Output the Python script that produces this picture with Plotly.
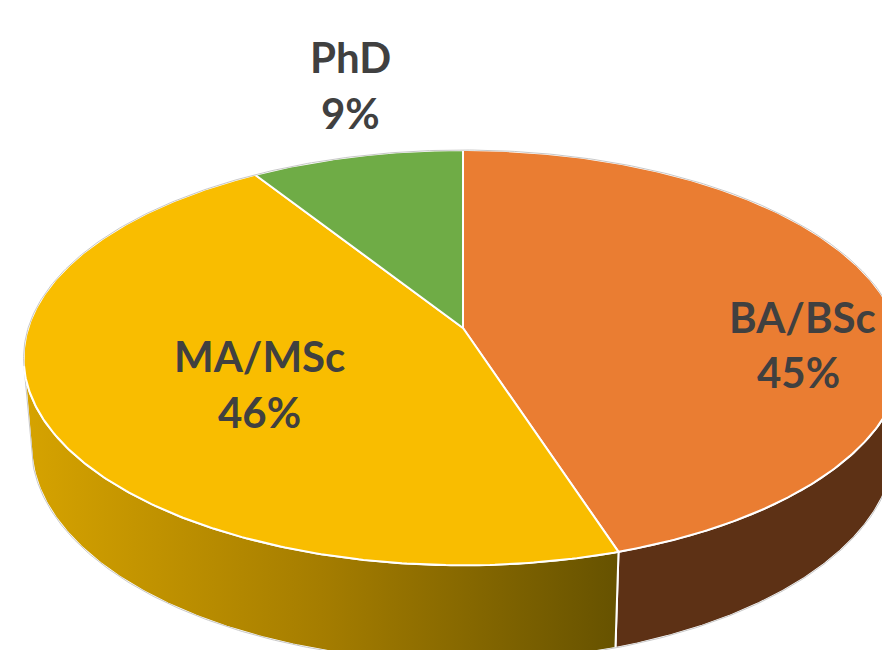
import numpy as np
import plotly.graph_objects as go

# ---------------- data ----------------
labels = ["BA/BSc", "MA/MSc", "PhD"]
values = [45, 46, 9]

# ---------------- style ----------------
top_colors = ["#EA7D32", "#F9BD00", "#6FAC46"]
side_fill = ["#5D3115", None, "#4A7030"]
side_grad = [None, [[0, "#D6A300"], [0.5, "#A57D00"], [1, "#665200"]], None]
label_color = "#404040"
label_font = "Lato"
label_size = 42
# label anchor positions (pixel space) for name and percentage lines
label_pos = [((802, 317), (798, 372)), ((259, 356), (259, 412)), ((350, 57), (350, 113))]

# ---------------- projection (3-D pie seen in perspective) ----------------
CX, CY = 463.0, 328.0      # screen position of pie centre
F = 2692.0                 # focal scale
DIST = 6.19                # camera distance (in radii)
S_A = 0.4677               # sin of tilt
C_A = np.sqrt(1 - S_A ** 2)
H = 0.2306                 # pie thickness (in radii)


def project(theta_deg, y=0.0, r=1.0):
    t = np.radians(theta_deg)
    X = r * np.cos(t)
    Z = r * np.sin(t)
    xv = X
    yv = Z * S_A + y * C_A
    zv = DIST + Z * C_A - y * S_A
    return CX + F * xv / zv, CY - F * yv / zv


total = float(sum(values))
starts, ends = [], []
a = 90.0
for v in values:
    starts.append(a)
    a -= 360.0 * v / total
    ends.append(a)

phi = np.degrees(np.arccos(1.0 / (DIST * C_A)))
vis_lo, vis_hi = -90.0 - phi, -90.0 + phi

fig = go.Figure()

# ---- side walls ----
for i in range(len(values)):
    lo = max(ends[i], vis_lo)
    hi = min(starts[i], vis_hi)
    if lo >= hi:
        continue
    th = np.linspace(lo, hi, 200)
    xt, yt = project(th, 0.0)
    xb, yb = project(th[::-1], -H)
    xs = np.concatenate([xt, xb, xt[:1]])
    ys = np.concatenate([yt, yb, yt[:1]])
    kw = dict(x=xs, y=ys, mode="lines", fill="toself",
              line=dict(color="white", width=2), hoverinfo="skip",
              showlegend=False)
    if side_grad[i] is not None:
        kw["fillgradient"] = dict(type="horizontal", colorscale=side_grad[i])
    else:
        kw["fillcolor"] = side_fill[i]
    fig.add_trace(go.Scatter(**kw))

# ---- outer outline (light grey) ----
th = np.linspace(vis_lo, vis_hi, 300)
xb, yb = project(th, -H)
xl0, yl0 = project(vis_lo, 0.0)
xr0, yr0 = project(vis_hi, 0.0)
fig.add_trace(go.Scatter(x=np.concatenate([[xl0], xb, [xr0]]),
                         y=np.concatenate([[yl0], yb, [yr0]]),
                         mode="lines", line=dict(color="#C8C8C8", width=1),
                         hoverinfo="skip", showlegend=False))

# ---- top faces ----
for i in range(len(values)):
    th = np.linspace(starts[i], ends[i], 300)
    xt, yt = project(th, 0.0)
    xs = np.concatenate([[CX], xt, [CX]])
    ys = np.concatenate([[CY], yt, [CY]])
    fig.add_trace(go.Scatter(x=xs, y=ys, mode="lines", fill="toself",
                             fillcolor=top_colors[i],
                             line=dict(color="white", width=2),
                             hoverinfo="skip", showlegend=False))

# back rim grey outline
th = np.linspace(vis_hi, vis_lo + 360, 300)
xr, yr = project(th, 0.0)
fig.add_trace(go.Scatter(x=xr, y=yr, mode="lines",
                         line=dict(color="#C8C8C8", width=1),
                         hoverinfo="skip", showlegend=False))

# ---- labels ----
for i in range(len(values)):
    pct = f"{round(100 * values[i] / total)}%"
    (nx, ny), (px, py) = label_pos[i]
    for txt, (x, y) in ((labels[i], (nx, ny)), (pct, (px, py))):
        fig.add_annotation(x=x, y=y, text=txt, showarrow=False,
                           xanchor="center", yanchor="middle",
                           font=dict(family=label_font, size=label_size,
                                     color=label_color, weight="bold"))

fig.update_layout(
    width=882, height=650,
    margin=dict(l=0, r=0, t=0, b=0),
    paper_bgcolor="white", plot_bgcolor="white",
    xaxis=dict(range=[0, 882], visible=False, fixedrange=True),
    yaxis=dict(range=[650, 0], visible=False, fixedrange=True),
    showlegend=False,
)

fig.write_html(
    "out.html",
    config={"displayModeBar": False},
    post_script="document.body.style.margin='0px';"
                "document.documentElement.style.overflow='hidden';",
)
